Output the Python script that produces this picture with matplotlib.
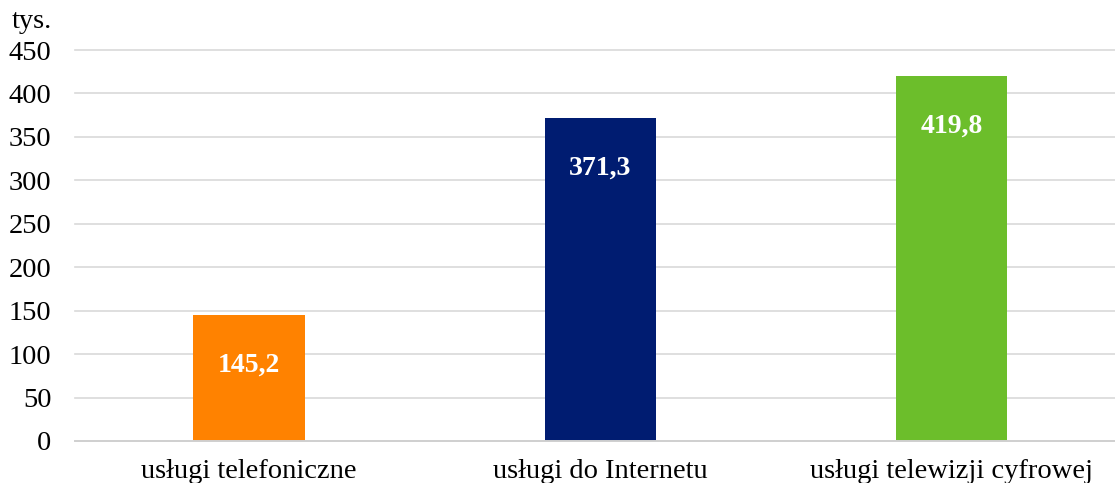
import matplotlib
matplotlib.use("Agg")
from matplotlib import pyplot as plt

categories = ["usługi telefoniczne", "usługi do Internetu", "usługi telewizji cyfrowej"]
values = [145.2, 371.3, 419.8]
colors = ["#FF8200", "#001C71", "#6CBE2B"]
yticks = [0, 50, 100, 150, 200, 250, 300, 350, 400, 450]

plt.rcParams['font.family'] = ['Liberation Serif', 'DejaVu Serif']

W, H = 1115, 483
fig = plt.figure(figsize=(W / 100, H / 100), dpi=100)
ax = fig.add_axes([75 / W, 42 / H, 1 - 75 / W, (441 - 50) / H])

x = list(range(len(categories)))
ax.bar(x, values, width=0.316, color=colors, zorder=3)
for xi, v in zip(x, values):
	ax.annotate(f"{v:.1f}".replace(".", ","), (xi, v), xytext=(0, -36), textcoords="offset points",
		ha="center", va="center", color="white", fontsize=20, fontweight="bold", zorder=4)

ax.set_xlim(-0.495, 2.464)
ax.set_ylim(0, 450)
ax.set_yticks(yticks)
ax.set_xticks(x)
ax.set_xticklabels(categories)
ax.tick_params(axis="both", length=0, labelsize=20.5)
ax.tick_params(axis="y", pad=17)
ax.tick_params(axis="x", pad=13)
ax.grid(axis="y", color="#D9D9D9", linewidth=1.2, zorder=0)
for line in ax.get_ygridlines():
	line.set_clip_on(False)
for s in ["top", "right", "left"]:
	ax.spines[s].set_visible(False)
ax.spines["bottom"].set_color("#D0D0D0")
ax.spines["bottom"].set_linewidth(1.4)
ax.spines["bottom"].set_zorder(5)

fig.text(12 / W, 1 - 21 / H, "tys.", fontsize=20.5, ha="left", va="center")

plt.savefig("out.png", dpi=100)
plt.close()
